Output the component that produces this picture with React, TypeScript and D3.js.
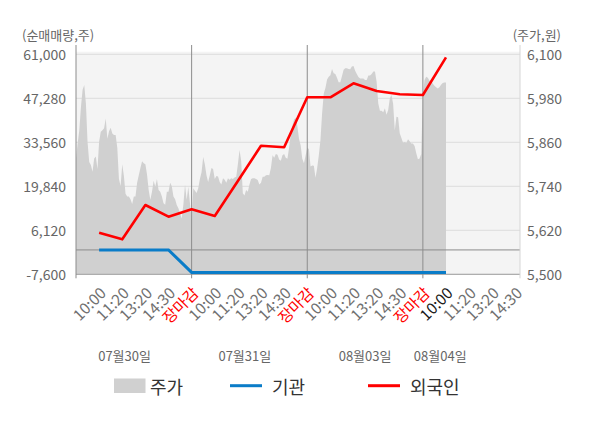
import React, { useEffect, useRef } from "react";
import * as d3 from "d3";

// x축 시간 라벨 (4일, 마지막 날은 장중)
const timeLabels = [
  "10:00", "11:20", "13:20", "14:30", "장마감",
  "10:00", "11:20", "13:20", "14:30", "장마감",
  "10:00", "11:20", "13:20", "14:30", "장마감",
  "10:00", "11:20", "13:20", "14:30",
];
const dateLabels = ["07월30일", "07월31일", "08월03일", "08월04일"];
const dateLabelSlots = [2.1, 7.3, 12.5, 15.75];
const daySlots = [0, 5, 10, 15];

const volumeTicks = [-7600, 6120, 19840, 33560, 47280, 61000];
const priceTicks = [5500, 5620, 5740, 5860, 5980, 6100];

// 순매매량 (주), 슬롯 1..16
const foreignNet = [
  5370, 3310, 14000, 10360, 12670, 10580, 21500, 32500,
  32000, 47590, 47590, 51950, 49550, 48520, 48300, 60060,
];
const institutionNet = [
  0, 0, 0, 0, -7000, -7000, -7000, -7000,
  -7000, -7000, -7000, -7000, -7000, -7000, -7000, -7000,
];

// 주가 (원), 슬롯당 14개 샘플
const samplesPerSlot = 14;
const price = [
  5816, 5857, 5893, 5957, 6003, 6016, 5966, 5860, 5806, 5798,
  5780, 5816, 5821, 5787, 5862, 5889, 5893, 5898, 5925, 5870,
  5890, 5900, 5884, 5880, 5880, 5845, 5760, 5741, 5800, 5768,
  5720, 5712, 5712, 5705, 5692, 5712, 5712, 5750, 5770, 5790,
  5808, 5803, 5800, 5772, 5730, 5703, 5725, 5755, 5739, 5760,
  5730, 5725, 5712, 5694, 5690, 5725, 5725, 5750, 5740, 5712,
  5705, 5689, 5680, 5666, 5652, 5690, 5745, 5703, 5739, 5694,
  // 07월31일
  5650, 5735, 5728, 5722, 5735, 5760, 5778, 5820, 5800, 5770,
  5752, 5770, 5790, 5787, 5760, 5768, 5767, 5752, 5745, 5762,
  5758, 5750, 5762, 5758, 5762, 5760, 5764, 5766, 5800, 5839,
  5810, 5721, 5715, 5730, 5725, 5745, 5760, 5762, 5762, 5760,
  5757, 5745, 5750, 5766, 5766, 5770, 5771, 5770, 5790, 5825,
  5818, 5828, 5826, 5813, 5810, 5825, 5828, 5818, 5815, 5845,
  5882, 5905, 5922, 5927, 5905, 5870, 5852, 5815, 5803, 5824,
  // 08월03일
  5845, 5842, 5794, 5797, 5796, 5763, 5790, 5825, 5866, 5940,
  5993, 6008, 6031, 6039, 6043, 6060, 6048, 6046, 6036, 6024,
  6024, 6040, 6058, 6062, 6062, 6060, 6059, 6067, 6068, 6055,
  6046, 6038, 6034, 6034, 6034, 6030, 6030, 6042, 6042, 6046,
  6053, 6053, 6025, 5966, 5946, 5946, 5942, 5953, 5935, 5948,
  5980, 5989, 5965, 5893, 5930, 5928, 5885, 5872, 5859, 5861,
  5858, 5868, 5863, 5857, 5857, 5850, 5830, 5814, 5816, 5828,
  // 08월04일
  5989, 6030, 6039, 6036, 6028, 6028, 6020, 6014, 6010, 6007,
  6010, 6017, 6022, 6023, 6023,
];

const FONT = "'Noto Sans CJK KR', 'Noto Sans', sans-serif";

const App: React.FC = () => {
  const ref = useRef<SVGSVGElement>(null);

  useEffect(() => {
    const svg = d3.select(ref.current);
    svg.selectAll("*").remove();

    const left = 76;
    const right = 520;
    const top = 54.3;
    const bottom = 274.3;

    const x = d3.scaleLinear().domain([0, 19.2]).range([left, right]);
    const yL = d3.scaleLinear().domain([-7600, 61000]).range([bottom, top]);
    const yR = d3.scaleLinear().domain([5500, 6100]).range([bottom, top]);

    // 배경
    svg.append("rect")
      .attr("x", left).attr("y", top - 2.6)
      .attr("width", right - left).attr("height", bottom - top + 2.6)
      .attr("fill", "#f4f4f4");

    // 그리드
    svg.append("g").selectAll("line")
      .data(volumeTicks)
      .join("line")
      .attr("x1", left).attr("x2", right)
      .attr("y1", d => yL(d)).attr("y2", d => yL(d))
      .attr("stroke", "#dcdcdc").attr("stroke-width", 1);

    // 주가 영역
    const area = d3.area<number>()
      .x((d, i) => x(i / samplesPerSlot))
      .y0(yR(5500))
      .y1(d => yR(d));
    svg.append("path")
      .datum(price)
      .attr("fill", "#d0d0d0")
      .attr("d", area);

    // 0 선
    svg.append("line")
      .attr("x1", left).attr("x2", right)
      .attr("y1", yL(0)).attr("y2", yL(0))
      .attr("stroke", "#8c8c8c").attr("stroke-width", 1);

    // 하단 축선
    svg.append("line")
      .attr("x1", left).attr("x2", right)
      .attr("y1", bottom).attr("y2", bottom)
      .attr("stroke", "#a0a0a0").attr("stroke-width", 1);

    // 일자 구분선 + 좌측 축선
    svg.append("g").selectAll("line")
      .data(daySlots)
      .join("line")
      .attr("x1", d => x(d)).attr("x2", d => x(d))
      .attr("y1", 45).attr("y2", bottom + 4)
      .attr("stroke", "#8c8c8c").attr("stroke-width", 1);

    // 우측 축선
    svg.append("line")
      .attr("x1", right).attr("x2", right)
      .attr("y1", 45).attr("y2", bottom + 4)
      .attr("stroke", "#d6d6d6").attr("stroke-width", 1);

    // 기관 / 외국인
    const line = d3.line<number>()
      .x((d, i) => x(i + 1))
      .y(d => yL(d));
    svg.append("path")
      .datum(institutionNet)
      .attr("fill", "none")
      .attr("stroke", "#0a7cc8")
      .attr("stroke-width", 3)
      .attr("d", line);
    svg.append("path")
      .datum(foreignNet)
      .attr("fill", "none")
      .attr("stroke", "#ff0000")
      .attr("stroke-width", 2.6)
      .attr("stroke-linejoin", "round")
      .attr("d", line);

    // y축 라벨
    const fmt = (v: number) => d3.format(",")(v).replace("−", "-");
    svg.append("g").selectAll("text")
      .data(volumeTicks)
      .join("text")
      .attr("x", 66).attr("y", d => yL(d))
      .attr("text-anchor", "end")
      .attr("dominant-baseline", "central")
      .attr("font-family", FONT).attr("font-size", 14)
      .attr("fill", "#666")
      .text(fmt);
    svg.append("g").selectAll("text")
      .data(priceTicks)
      .join("text")
      .attr("x", 527).attr("y", d => yR(d))
      .attr("text-anchor", "start")
      .attr("dominant-baseline", "central")
      .attr("font-family", FONT).attr("font-size", 14)
      .attr("fill", "#666")
      .text(fmt);

    svg.append("text")
      .attr("x", 22).attr("y", 34)
      .attr("dominant-baseline", "central")
      .attr("font-family", FONT).attr("font-size", 13)
      .attr("fill", "#666")
      .text("(순매매량,주)");
    svg.append("text")
      .attr("x", 561).attr("y", 34)
      .attr("text-anchor", "end")
      .attr("dominant-baseline", "central")
      .attr("font-family", FONT).attr("font-size", 13)
      .attr("fill", "#666")
      .text("(주가,원)");

    // x축 시간 라벨
    svg.append("g").selectAll("text")
      .data(timeLabels)
      .join("text")
      .attr("transform", (d, i) => `translate(${x(i + 1) + 3},${bottom + 15}) rotate(-45)`)
      .attr("text-anchor", "end")
      .attr("dominant-baseline", "central")
      .attr("font-family", FONT).attr("font-size", 15.5)
      .attr("fill", (d, i) => d === "장마감" ? "#ff0000" : i === 15 ? "#1a1a1a" : "#707070")
      .text(d => d);

    // 날짜 라벨
    svg.append("g").selectAll("text")
      .data(dateLabels)
      .join("text")
      .attr("x", (d, i) => x(dateLabelSlots[i]))
      .attr("y", 355)
      .attr("text-anchor", "middle")
      .attr("dominant-baseline", "central")
      .attr("font-family", FONT).attr("font-size", 13)
      .attr("fill", "#666")
      .text(d => d);

    // 범례
    const legend = svg.append("g").attr("font-family", FONT).attr("font-size", 18).attr("fill", "#333");
    legend.append("rect")
      .attr("x", 114).attr("y", 378.5).attr("width", 31.5).attr("height", 14.5)
      .attr("fill", "#d0d0d0");
    legend.append("text").attr("x", 150).attr("y", 386).attr("dominant-baseline", "central").text("주가");
    legend.append("line")
      .attr("x1", 230).attr("x2", 262).attr("y1", 385.7).attr("y2", 385.7)
      .attr("stroke", "#0a7cc8").attr("stroke-width", 3);
    legend.append("text").attr("x", 272).attr("y", 386).attr("dominant-baseline", "central").text("기관");
    legend.append("line")
      .attr("x1", 368).attr("x2", 400).attr("y1", 385.7).attr("y2", 385.7)
      .attr("stroke", "#ff0000").attr("stroke-width", 3);
    legend.append("text").attr("x", 410).attr("y", 386).attr("dominant-baseline", "central").text("외국인");
  }, []);

  return (
    <svg
      ref={ref}
      width={600}
      height={428}
      style={{ position: "absolute", left: 0, top: 0, background: "#fff" }}
    />
  );
};

export default App;
